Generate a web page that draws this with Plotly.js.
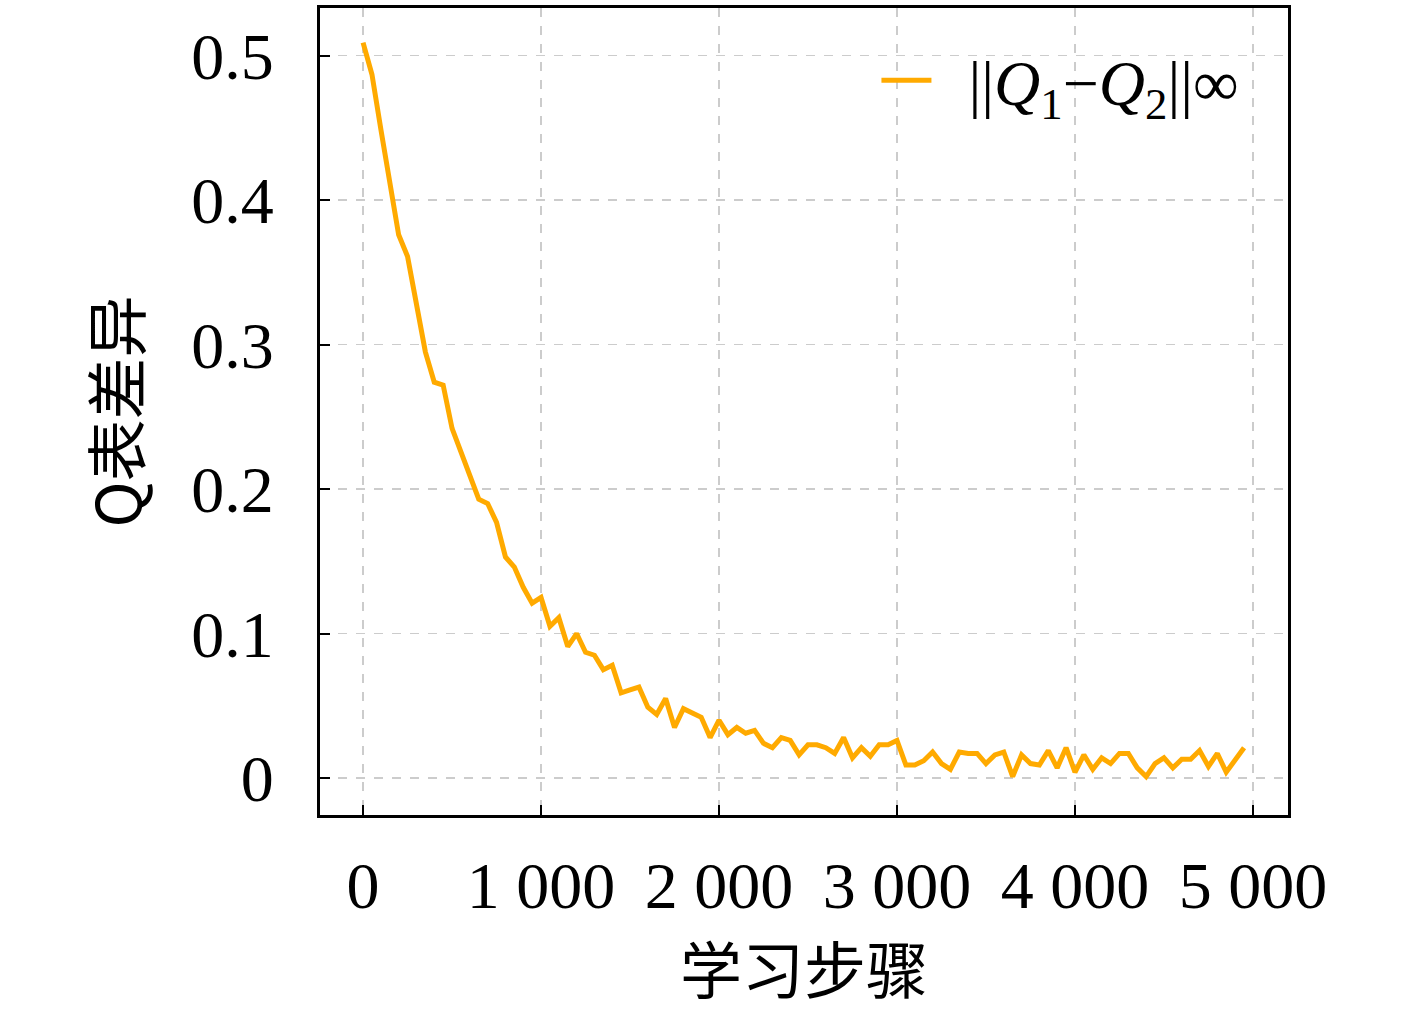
<!DOCTYPE html>
<html>
<head>
<meta charset="utf-8">
<script src="https://cdn.plot.ly/plotly-3.0.1.min.js"></script>
<style>
  html, body { margin: 0; padding: 0; background: #fff; }
  #chart { width: 1417px; height: 1016px; }
</style>
</head>
<body>
<div id="chart"></div>
<script>
// learning steps, one sample every 50 steps
const steps = [];
for (let i = 0; i < 100; i++) steps.push(i * 50);

// ||Q1 - Q2||inf
const qDiff = [
  0.509, 0.487, 0.449, 0.411, 0.376, 0.361, 0.328, 0.295, 0.274, 0.272,
  0.242, 0.226, 0.208, 0.193, 0.190, 0.177, 0.153, 0.146, 0.132, 0.121,
  0.125, 0.105, 0.111, 0.091, 0.100, 0.087, 0.085, 0.075, 0.078, 0.059,
  0.061, 0.063, 0.049, 0.044, 0.055, 0.035, 0.048, 0.045, 0.042, 0.028,
  0.040, 0.030, 0.035, 0.031, 0.033, 0.024, 0.021, 0.028, 0.026, 0.016,
  0.023, 0.023, 0.021, 0.017, 0.028, 0.014, 0.021, 0.015, 0.023, 0.023,
  0.026, 0.009, 0.009, 0.012, 0.018, 0.010, 0.006, 0.018, 0.017, 0.017,
  0.010, 0.016, 0.018, 0.001, 0.016, 0.010, 0.009, 0.019, 0.007, 0.021,
  0.004, 0.016, 0.006, 0.014, 0.010, 0.017, 0.017, 0.007, 0.001, 0.010,
  0.014, 0.007, 0.013, 0.013, 0.019, 0.008, 0.017, 0.004, 0.012, 0.021
];

const xTicks = [0, 1000, 2000, 3000, 4000, 5000];
const xTickText = ['0', '1 000', '2 000', '3 000', '4 000', '5 000'];
const yTicks = [0, 0.1, 0.2, 0.3, 0.4, 0.5];
const yTickText = ['0', '0.1', '0.2', '0.3', '0.4', '0.5'];

const serif = '"Liberation Serif", "DejaVu Serif", serif';
const cjk = '"Noto Sans CJK SC", "Noto Sans", sans-serif';

const trace = {
  x: steps,
  y: qDiff,
  type: 'scatter',
  mode: 'lines',
  name: '  ||<i>Q</i><sub>1</sub>−<i>Q</i><sub>2</sub>||∞',
  line: { color: '#FFAA00', width: 5 },
  hoverinfo: 'skip'
};

const axisCommon = {
  showline: true,
  linecolor: 'black',
  linewidth: 3,
  mirror: true,
  ticks: 'inside',
  tickcolor: 'black',
  tickwidth: 2,
  ticklen: 10,
  showgrid: true,
  gridcolor: '#cccccc',
  gridwidth: 1.5,
  griddash: 'dash',
  zeroline: false,
  tickmode: 'array',
  tickfont: { family: serif, size: 66, color: 'black' }
};

const layout = {
  width: 1417,
  height: 1016,
  paper_bgcolor: 'white',
  plot_bgcolor: 'white',
  margin: { l: 320, r: 129, t: 8, b: 201 },
  showlegend: true,
  legend: {
    x: 0.955, y: 0.97, xanchor: 'right', yanchor: 'top',
    bgcolor: 'rgba(0,0,0,0)',
    borderwidth: 0,
    itemwidth: 50,
    font: { family: serif, size: 64, color: 'black' }
  },
  xaxis: Object.assign({}, axisCommon, {
    range: [-242, 5197],
    tickvals: xTicks,
    ticktext: xTickText,
    ticklabelstandoff: 11,
    title: { text: '学习步骤', font: { family: cjk, size: 62, color: 'black' }, standoff: 20 }
  }),
  yaxis: Object.assign({}, axisCommon, {
    range: [-0.0256, 0.533],
    tickvals: yTicks,
    ticktext: yTickText,
    ticklabelstandoff: 30,
    title: { text: 'Q表差异', font: { family: cjk, size: 62, color: 'black' }, standoff: 30 }
  })
};

Plotly.newPlot('chart', [trace], layout, { displayModeBar: false, staticPlot: true });
</script>
</body>
</html>
